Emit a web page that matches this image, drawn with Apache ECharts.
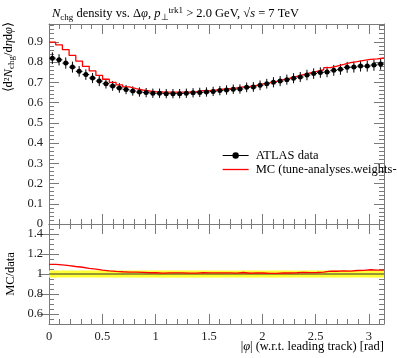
<!DOCTYPE html>
<html><head><meta charset="utf-8">
<script src="https://cdn.jsdelivr.net/npm/echarts@6/dist/echarts.min.js"></script>
<style>html,body{margin:0;padding:0;background:#fff}#c{width:397px;height:358px}</style>
</head><body><div id="c"></div>
<script>
// ---- data ----
const nBins = 50;
const xMin = 0;
const xMax = Math.PI;
const dataValues = [0.819,0.811,0.795,0.775,0.754,0.738,0.721,0.706,0.693,0.682,
  0.672,0.664,0.657,0.652,0.649,0.646,0.646,0.644,0.644,0.644,
  0.646,0.648,0.650,0.652,0.655,0.659,0.662,0.666,0.667,0.675,
  0.677,0.685,0.693,0.700,0.706,0.713,0.720,0.726,0.736,0.743,
  0.748,0.751,0.759,0.764,0.774,0.775,0.780,0.780,0.785,0.790];
const dataErrors = [0.029,0.028,0.028,0.027,0.026,0.026,0.025,0.025,0.024,0.024,
  0.024,0.023,0.023,0.023,0.023,0.023,0.023,0.023,0.023,0.023,
  0.023,0.023,0.023,0.023,0.023,0.023,0.023,0.023,0.023,0.024,
  0.024,0.024,0.024,0.025,0.025,0.025,0.025,0.025,0.026,0.026,
  0.026,0.026,0.027,0.027,0.027,0.027,0.027,0.027,0.028,0.028];
const mcValues = [0.898,0.885,0.861,0.833,0.805,0.779,0.756,0.734,0.715,0.700,
  0.687,0.677,0.669,0.662,0.657,0.654,0.652,0.651,0.651,0.651,
  0.652,0.654,0.659,0.659,0.662,0.666,0.669,0.672,0.677,0.680,
  0.685,0.692,0.698,0.705,0.713,0.720,0.729,0.738,0.746,0.754,
  0.762,0.772,0.780,0.788,0.797,0.802,0.808,0.813,0.816,0.820];
const xTickLabels = [0, 0.5, 1, 1.5, 2, 2.5, 3];
const mainYTickLabels = [0, 0.1, 0.2, 0.3, 0.4, 0.5, 0.6, 0.7, 0.8, 0.9];
const ratioYTickLabels = [0.6, 0.8, 1, 1.2, 1.4];
const dataName = 'ATLAS data';
const mcName = 'MC (tune-analyses.weights-';

// ---- derived ----
const bw = (xMax - xMin) / nBins;
const edges = Array.from({length: nBins + 1}, (_, i) => xMin + i * bw);
const centers = edges.slice(0, nBins).map(e => e + bw / 2);
const ratio = mcValues.map((v, i) => v / dataValues[i]);
const relErr = dataErrors.map((e, i) => e / dataValues[i]);
function stepData(vals) {
  const d = vals.map((v, i) => [edges[i], v]);
  d.push([edges[nBins], vals[nBins - 1]]);
  return d;
}

const FONT = 'Liberation Serif';
const GRAY = '#7a7a7a';
const chart = echarts.init(document.getElementById('c'), null, {renderer: 'canvas'});

function xAx(grid, pos, labels) {
  return {
    type: 'value', gridIndex: grid, position: pos, min: xMin, max: xMax, interval: 0.5,
    axisLine: {show: true, onZero: false, lineStyle: {color: GRAY, width: 1}},
    axisTick: {show: true, inside: true, length: 10, lineStyle: {color: GRAY}},
    minorTick: {show: true, splitNumber: 5, length: 5, lineStyle: {color: GRAY}},
    splitLine: {show: false}, minorSplitLine: {show: false},
    axisLabel: {show: labels, showMaxLabel: false, margin: 6, color: '#222', fontFamily: FONT, fontSize: 12.5}
  };
}
const mainMax = 0.988;
function mainY(pos, labels) {
  return {
    type: 'value', gridIndex: 0, position: pos, min: 0, max: mainMax, interval: 0.1,
    axisLine: {show: true, onZero: false, lineStyle: {color: GRAY}},
    axisTick: {show: true, inside: true, length: 10, lineStyle: {color: GRAY}},
    minorTick: {show: true, splitNumber: 5, length: 5, lineStyle: {color: GRAY}},
    splitLine: {show: false}, minorSplitLine: {show: false},
    axisLabel: {show: labels, showMaxLabel: false, margin: 6, color: '#222', fontFamily: FONT, fontSize: 12.5}
  };
}
function ratioMinorY(pos) {
  return {
    type: 'value', gridIndex: 1, position: pos, min: 0.5, max: 1.5, interval: 0.05,
    axisLine: {show: true, onZero: false, lineStyle: {color: GRAY}},
    axisTick: {show: true, inside: true, length: 5, lineStyle: {color: GRAY}},
    splitLine: {show: false}, axisLabel: {show: false}
  };
}
function ratioMajorY(pos, labels) {
  return {
    type: 'value', gridIndex: 1, position: pos, min: 0.5, max: 1.5,
    axisLine: {show: false},
    axisTick: {show: true, inside: true, length: 10, customValues: ratioYTickLabels, lineStyle: {color: GRAY}},
    splitLine: {show: false},
    axisLabel: {show: labels, customValues: ratioYTickLabels, margin: 6, color: '#222', fontFamily: FONT, fontSize: 12.5}
  };
}

const option = {
  animation: false,
  backgroundColor: '#fff',
  title: {
    left: 47, top: 1,
    text: '{i|N}{sub|chg}{r| density vs. Δ}{i|φ}{r|, }{i|p}{sub|⊥}{sup|trk1}{r| > 2.0 GeV, √}{i|s}{r| = 7 TeV}',
    textStyle: {
      fontWeight: 'normal',
      rich: {
        r: {fontFamily: FONT, fontSize: 12.5, fontWeight: 'normal', color: '#000', lineHeight: 16},
        i: {fontFamily: FONT, fontSize: 12.5, fontWeight: 'normal', fontStyle: 'italic', color: '#000', lineHeight: 16},
        sub: {fontFamily: FONT, fontSize: 9, fontWeight: 'normal', color: '#000', lineHeight: 8, verticalAlign: 'bottom'},
        sup: {fontFamily: FONT, fontSize: 9, fontWeight: 'normal', color: '#000', lineHeight: 8, verticalAlign: 'top'}
      }
    }
  },
  grid: [
    {left: 49, top: 24, width: 335, height: 200},
    {left: 49, top: 224, width: 335, height: 100}
  ],
  xAxis: [xAx(0, 'bottom', false), xAx(0, 'top', false), xAx(1, 'top', false), xAx(1, 'bottom', true)],
  yAxis: [mainY('left', true), mainY('right', false),
    ratioMinorY('left'), ratioMajorY('left', true), ratioMinorY('right'), ratioMajorY('right', false)],
  legend: {
    orient: 'vertical', left: 217, top: 144, itemWidth: 26, itemHeight: 8, itemGap: 1,
    textStyle: {fontFamily: FONT, fontSize: 12.5, color: '#000', lineHeight: 12, padding: [0, 0, 0, 2]},
    data: [
      {name: dataName, lineStyle: {color: '#000', width: 1, opacity: 1}, itemStyle: {color: '#000', opacity: 1}},
      {name: mcName, lineStyle: {color: '#ff0000', width: 1.3, opacity: 1}, itemStyle: {opacity: 0}}
    ]
  },
  series: [
    {
      name: 'band', type: 'custom', xAxisIndex: 3, yAxisIndex: 2, silent: true, clip: true,
      data: centers.map((c, i) => [edges[i], edges[i + 1], relErr[i]]),
      renderItem: (params, api) => {
        const p0 = api.coord([api.value(0), 1 + api.value(2)]);
        const p1 = api.coord([api.value(1), 1 - api.value(2)]);
        return {type: 'rect', shape: {x: p0[0], y: p0[1], width: p1[0] - p0[0] + 0.5, height: p1[1] - p0[1]},
          style: {fill: '#ffff33'}};
      }
    },
    {
      name: 'unity', type: 'line', xAxisIndex: 3, yAxisIndex: 2, symbol: 'none', silent: true,
      data: [[xMin, 1], [xMax, 1]], lineStyle: {color: '#333', width: 1}
    },
    {
      name: 'ratioMC', type: 'line', xAxisIndex: 3, yAxisIndex: 2, step: 'end', symbol: 'none', silent: true,
      data: stepData(ratio), lineStyle: {color: '#ff0000', width: 1.3}
    },
    {
      name: mcName, type: 'line', xAxisIndex: 0, yAxisIndex: 0, step: 'end', symbol: 'none',
      color: '#ff0000', data: stepData(mcValues), lineStyle: {color: '#ff0000', width: 1.3}
    },
    {
      name: 'dataErr', type: 'custom', xAxisIndex: 0, yAxisIndex: 0, silent: true,
      data: centers.map((c, i) => [c, dataValues[i], dataErrors[i], bw / 2]),
      renderItem: (params, api) => {
        const x = api.value(0), y = api.value(1), e = api.value(2), hw = api.value(3);
        const a = api.coord([x, y - e]), b = api.coord([x, y + e]);
        const c = api.coord([x - hw, y]), d = api.coord([x + hw, y]);
        const st = {stroke: '#000', lineWidth: 1};
        return {type: 'group', children: [
          {type: 'line', shape: {x1: a[0], y1: a[1], x2: b[0], y2: b[1]}, style: st},
          {type: 'line', shape: {x1: c[0], y1: c[1], x2: d[0], y2: d[1]}, style: st}
        ]};
      }
    },
    {
      name: dataName, type: 'line', xAxisIndex: 0, yAxisIndex: 0, symbol: 'circle', symbolSize: 5,
      showSymbol: true, showAllSymbol: true,
      color: '#000', itemStyle: {color: '#000', opacity: 1}, lineStyle: {width: 0, opacity: 0},
      data: centers.map((c, i) => [c, dataValues[i]])
    }
  ],
  graphic: [
    {
      type: 'text', x: 9, y: 22, rotation: Math.PI / 2,
      style: {
        text: '{r|⟨d²}{i|N}{sub|chg}{r|/d}{i|η}{r|d}{i|φ}{r|⟩}',
        align: 'right', verticalAlign: 'middle',
        rich: {
          r: {fontFamily: FONT, fontSize: 12.5, fill: '#000', lineHeight: 14},
          i: {fontFamily: FONT, fontSize: 12.5, fontStyle: 'italic', fill: '#000', lineHeight: 14},
          sub: {fontFamily: FONT, fontSize: 9, fill: '#000', lineHeight: 8, verticalAlign: 'bottom'}
        }
      }
    },
    {
      type: 'text', x: 11, y: 274, rotation: Math.PI / 2,
      style: {text: 'MC/data', align: 'center', verticalAlign: 'middle', fontFamily: FONT, fontSize: 12.5, fill: '#000'}
    },
    {
      type: 'text', x: 384, y: 347,
      style: {
        text: '{r||}{i|φ}{r|| (w.r.t. leading track) [rad]}',
        align: 'right', verticalAlign: 'middle',
        rich: {
          r: {fontFamily: FONT, fontSize: 12.5, fill: '#000'},
          i: {fontFamily: FONT, fontSize: 12.5, fontStyle: 'italic', fill: '#000'}
        }
      }
    }
  ]
};
chart.setOption(option);
</script></body></html>
